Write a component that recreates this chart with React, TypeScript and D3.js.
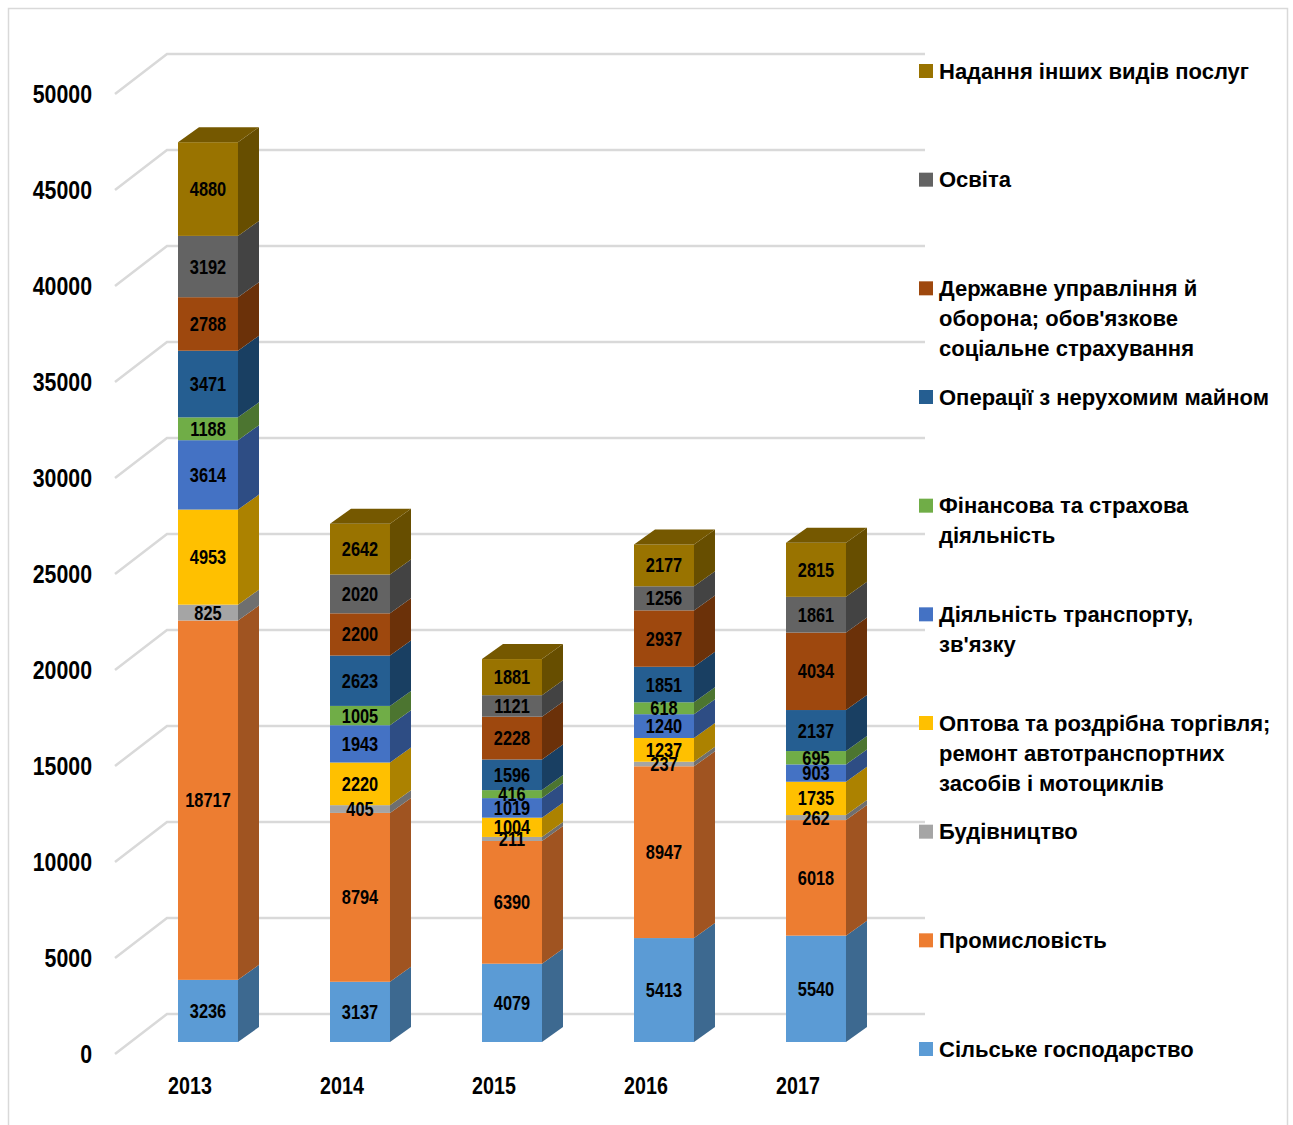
import React, { useMemo } from "react";
import * as d3 from "d3";

const years = ["2013", "2014", "2015", "2016", "2017"];
const agriculture = [3236, 3137, 4079, 5413, 5540];
const industry = [18717, 8794, 6390, 8947, 6018];
const construction = [825, 405, 211, 237, 262];
const trade = [4953, 2220, 1004, 1237, 1735];
const transport = [3614, 1943, 1019, 1240, 903];
const finance = [1188, 1005, 416, 618, 695];
const realEstate = [3471, 2623, 1596, 1851, 2137];
const publicAdmin = [2788, 2200, 2228, 2937, 4034];
const education = [3192, 2020, 1121, 1256, 1861];
const otherServices = [4880, 2642, 1881, 2177, 2815];

const seriesLabels = [
  ["Сільське господарство"],
  ["Промисловість"],
  ["Будівництво"],
  ["Оптова та роздрібна торгівля;", "ремонт автотранспортних", "засобів і мотоциклів"],
  ["Діяльність транспорту,", "зв'язку"],
  ["Фінансова та страхова", "діяльність"],
  ["Операції з нерухомим майном"],
  ["Державне управління й", "оборона; обов'язкове", "соціальне страхування"],
  ["Освіта"],
  ["Надання інших видів послуг"],
];
const seriesColors = [
  "#5B9BD5", "#ED7D31", "#A5A5A5", "#FFC000", "#4472C4",
  "#70AD47", "#255E91", "#9E480E", "#636363", "#997300",
];
const yTicks = [0, 5000, 10000, 15000, 20000, 25000, 30000, 35000, 40000, 45000, 50000];

function hasNarrow(): boolean {
  try {
    const c = document.createElement("canvas").getContext("2d");
    if (!c) return false;
    c.font = 'bold 40px "Liberation Sans Narrow", monospace';
    const a = c.measureText("0123456789abcdefgh").width;
    c.font = "bold 40px monospace";
    const b = c.measureText("0123456789abcdefgh").width;
    return Math.abs(a - b) > 1;
  } catch (e) {
    return false;
  }
}

function NText(props: { x: number; y: number; size: number; anchor: string; narrow: boolean; children: any }) {
  const { x, y, size, anchor, narrow, children } = props;
  if (narrow) {
    return (
      <text x={x} y={y} dy="0.35em" textAnchor={anchor} fontFamily='"Liberation Sans Narrow", "Arial Narrow", sans-serif'
        fontWeight="bold" fontSize={size} fill="#000">{children}</text>
    );
  }
  return (
    <text transform={`translate(${x},${y}) scale(0.82,1)`} dy="0.35em" textAnchor={anchor}
      fontFamily='"Liberation Sans", Arial, sans-serif' fontWeight="bold" fontSize={size} fill="#000">{children}</text>
  );
}

export default function App() {
  const narrow = useMemo(() => hasNarrow(), []);
  const series = [agriculture, industry, construction, trade, transport, finance, realEstate, publicAdmin, education, otherServices];
  const keys = series.map((_, i) => "s" + i);
  const table = years.map((yr, i) => {
    const o: any = { year: yr };
    keys.forEach((k, j) => (o[k] = series[j][i]));
    return o;
  });
  const stacked = d3.stack().keys(keys)(table as any);

  const x = d3.scaleBand().domain(years).range([86, 938]).paddingInner(0.6053).paddingOuter(0.6053);
  const bw = x.bandwidth();
  const yBar = d3.scaleLinear().domain([0, 50000]).range([1042, 82]);
  const yBack = d3.scaleLinear().domain([0, 50000]).range([1014, 54]);
  const yFront = d3.scaleLinear().domain([0, 50000]).range([1054, 94]);
  const dx = 21, dy = -15;
  const legendY = d3.scalePoint().domain(keys.slice().reverse()).range([71, 1049]);

  return (
    <svg width={1293} height={1125} style={{ position: "absolute", left: 0, top: 0 }}>
      <rect x={8.5} y={8.5} width={1279} height={1130} fill="#fff" stroke="#d9d9d9" strokeWidth={1.5} />
      {yTicks.map((t) => (
        <g key={t}>
          <path d={`M115,${yFront(t)}L167,${yBack(t)}L925,${yBack(t)}`} fill="none" stroke="#d9d9d9" strokeWidth={2.5} />
          <NText x={92} y={yFront(t)} size={26} anchor="end" narrow={narrow}>{t}</NText>
        </g>
      ))}
      {years.map((yr, i) => {
        const x0 = x(yr) as number;
        const x1 = x0 + bw;
        return (
          <g key={yr}>
            {stacked.map((s, j) => {
              const d = s[i];
              const yb = yBar(d[0]);
              const yt = yBar(d[1]);
              const c = d3.color(seriesColors[j])!;
              const side = c.darker(1.1).formatHex();
              const top = c.darker(0.75).formatHex();
              const isTop = j === stacked.length - 1;
              return (
                <g key={j}>
                  <rect x={x0} y={yt} width={bw} height={yb - yt} fill={seriesColors[j]} />
                  <path d={`M${x1},${yb}L${x1 + dx},${yb + dy}L${x1 + dx},${yt + dy}L${x1},${yt}Z`} fill={side} />
                  {isTop && (
                    <path d={`M${x0},${yt}L${x0 + dx},${yt + dy}L${x1 + dx},${yt + dy}L${x1},${yt}Z`} fill={top} />
                  )}
                </g>
              );
            })}
            {stacked.map((s, j) => {
              const d = s[i];
              return (
                <NText key={"l" + j} x={x0 + bw / 2} y={yBar((d[0] + d[1]) / 2)} size={20} anchor="middle" narrow={narrow}>
                  {series[j][i]}
                </NText>
              );
            })}
            <text x={x0 + bw / 2 - 18} y={1086} dy="0.35em" textAnchor="middle"
              transform={narrow ? undefined : `translate(${x0 + bw / 2 - 18},1086) scale(0.82,1) translate(${-(x0 + bw / 2 - 18)},-1086)`}
              fontFamily={narrow ? '"Liberation Sans Narrow", sans-serif' : '"Liberation Sans", Arial, sans-serif'}
              fontWeight="bold" fontSize={24} fill="#000">{yr}</text>
          </g>
        );
      })}
      {keys.map((k, j) => {
        const cy = legendY(k) as number;
        return (
          <g key={k}>
            <rect x={919} y={cy - 7} width={14} height={14} fill={seriesColors[j]} />
            {seriesLabels[j].map((line, li) => (
              <text key={li} x={939} y={cy + li * 30} dy="0.35em" fontFamily='"Liberation Sans", Arial, sans-serif'
                fontWeight="bold" fontSize={22} fill="#000">{line}</text>
            ))}
          </g>
        );
      })}
    </svg>
  );
}
